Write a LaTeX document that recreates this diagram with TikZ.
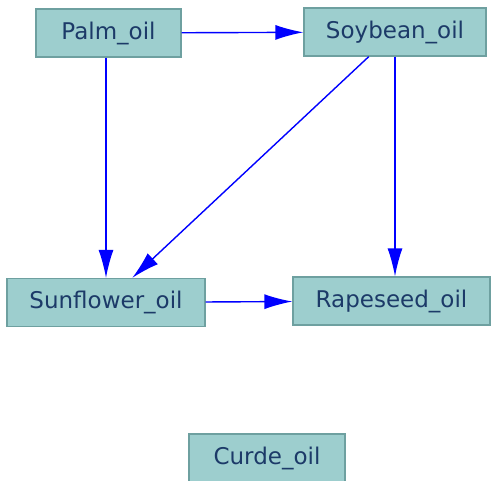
\documentclass[tikz,border=0pt]{standalone}
\usepackage{fontspec}
\setmainfont{DejaVu Sans}
\usetikzlibrary{arrows.meta,positioning}
\definecolor{boxfill}{RGB}{157,206,206}
\definecolor{boxline}{RGB}{110,160,160}
\definecolor{boxtext}{RGB}{28,58,104}

\begin{document}
\begin{tikzpicture}[x=1pt,y=-1pt,
 oil/.style={rectangle,draw=boxline,line width=1.2pt,fill=boxfill,
   text=boxtext,font=\fontsize{23}{26}\selectfont,minimum height=48pt,inner sep=0pt},
 link/.style={draw=blue,line width=1.4pt,-{Latex[length=28pt,width=15pt]}}]
  \useasboundingbox (0,0) rectangle (492,480);

  \node[oil,minimum width=145pt] (palm) at (108.5,33) {Palm\_oil};
  \node[oil,minimum width=182pt] (soy) at (395,32) {Soybean\_oil};
  \node[oil,minimum width=198pt] (sun) at (106,302.5) {Sunflower\_oil};
  \node[oil,minimum width=197pt] (rape) at (391.5,301) {Rapeseed\_oil};
  \node[oil,minimum width=156pt] (curde) at (267,458) {Curde\_oil};

  \draw[link] (sun.north |- palm.south) -- (sun.north);
  \draw[link] (palm) -- (soy);
  \draw[link] (soy) -- (sun);
  \draw[link] (soy.south) -- (soy.south |- rape.north);
  \draw[link] (sun) -- (rape);
\end{tikzpicture}
\end{document}
